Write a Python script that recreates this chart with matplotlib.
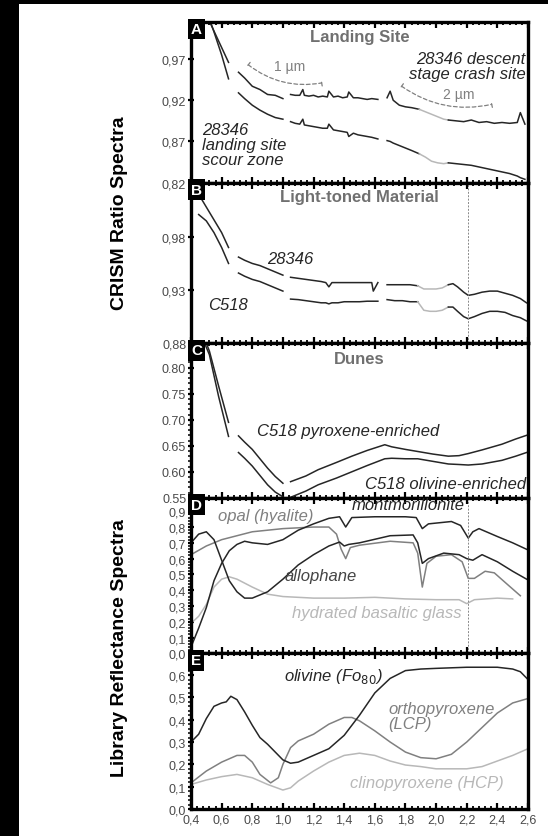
import matplotlib.pyplot as plt
from matplotlib.patches import Rectangle, FancyArrowPatch
from matplotlib.ticker import MultipleLocator, FixedLocator, FuncFormatter

plt.rcParams['font.family'] = ['Liberation Sans', 'DejaVu Sans']

DARK = '#262626'
MID = '#808080'
LIGHT = '#b8b8b8'
TITLE = '#707070'
TICKC = '#4a4a4a'

# ---------------- A: landing site (CRISM ratio) ----------------
a_wl1 = [0.45, 0.50, 0.55, 0.60, 0.645]
a_crash1 = [1.044, 1.024, 1.004, 0.984, 0.966]
a_scour1 = [1.060, 1.030, 1.003, 0.975, 0.946]
a_wl2 = [0.71, 0.75, 0.80, 0.85, 0.90, 0.95, 1.00]
a_crash2 = [0.954, 0.947, 0.937, 0.933, 0.927, 0.926, 0.922]
a_scour2 = [0.929, 0.922, 0.914, 0.908, 0.903, 0.899, 0.897]
a_wl3 = [1.05, 1.08, 1.11, 1.13, 1.14, 1.17, 1.20, 1.23, 1.26, 1.29, 1.30,
         1.33, 1.36, 1.39, 1.42, 1.43, 1.46, 1.49, 1.52, 1.55, 1.58, 1.62]
a_crash3 = [0.927, 0.926, 0.926, 0.933, 0.926, 0.925, 0.926, 0.924, 0.925,
            0.924, 0.931, 0.924, 0.925, 0.923, 0.924, 0.930, 0.923, 0.923,
            0.922, 0.921, 0.922, 0.921]
a_scour3 = [0.894, 0.892, 0.891, 0.897, 0.890, 0.889, 0.888, 0.887, 0.886,
            0.886, 0.891, 0.884, 0.883, 0.882, 0.881, 0.876, 0.880, 0.878,
            0.877, 0.876, 0.875, 0.873]
a_wl4 = [1.68, 1.70, 1.72, 1.76, 1.80, 1.84, 1.89]
a_crash4 = [0.923, 0.931, 0.920, 0.914, 0.912, 0.911, 0.909]
a_scour4 = [0.871, 0.870, 0.868, 0.865, 0.862, 0.859, 0.855]
a_wl5 = [1.89, 1.93, 1.97, 2.01, 2.05, 2.08]
a_crash5 = [0.909, 0.906, 0.903, 0.900, 0.897, 0.896]
a_scour5 = [0.855, 0.851, 0.846, 0.844, 0.843, 0.844]
a_wl6 = [2.08, 2.13, 2.18, 2.23, 2.28, 2.33, 2.38, 2.43, 2.48, 2.53, 2.55, 2.58]
a_crash6 = [0.896, 0.895, 0.894, 0.896, 0.893, 0.894, 0.892, 0.893, 0.892,
            0.893, 0.905, 0.891]
a_scour6 = [0.844, 0.843, 0.842, 0.841, 0.839, 0.837, 0.835, 0.833, 0.831,
            0.828, 0.826, 0.824]

# ---------------- B: light-toned material ----------------
b_wl1 = [0.45, 0.50, 0.55, 0.60, 0.645]
b_28346_1 = [1.020, 1.008, 0.996, 0.984, 0.970]
b_c518_1 = [1.001, 0.995, 0.984, 0.970, 0.955]
b_wl2 = [0.71, 0.75, 0.80, 0.85, 0.90, 0.95, 1.00]
b_28346_2 = [0.961, 0.958, 0.955, 0.953, 0.950, 0.947, 0.944]
b_c518_2 = [0.946, 0.943, 0.940, 0.938, 0.935, 0.932, 0.929]
b_wl3 = [1.05, 1.10, 1.15, 1.20, 1.25, 1.28, 1.30, 1.32, 1.36, 1.40, 1.45,
         1.50, 1.55, 1.58, 1.59, 1.62]
b_28346_3 = [0.942, 0.941, 0.940, 0.939, 0.938, 0.937, 0.933, 0.937, 0.937,
             0.937, 0.937, 0.937, 0.937, 0.937, 0.929, 0.937]
b_c518_3 = [0.9215, 0.921, 0.920, 0.919, 0.918, 0.918, 0.917, 0.918, 0.918,
            0.919, 0.919, 0.919, 0.9195, 0.9195, 0.9195, 0.9195]
b_wl4 = [1.68, 1.73, 1.78, 1.83, 1.88]
b_28346_4 = [0.935, 0.935, 0.935, 0.935, 0.934]
b_c518_4 = [0.921, 0.920, 0.920, 0.919, 0.919]
b_wl5 = [1.88, 1.92, 1.96, 2.00, 2.04, 2.08]
b_28346_5 = [0.934, 0.931, 0.931, 0.931, 0.932, 0.935]
b_c518_5 = [0.919, 0.911, 0.910, 0.910, 0.911, 0.914]
b_wl6 = [2.08, 2.11, 2.14, 2.18, 2.21, 2.25, 2.30, 2.35, 2.40, 2.45, 2.50,
         2.55, 2.59]
b_28346_6 = [0.935, 0.936, 0.933, 0.928, 0.925, 0.926, 0.928, 0.929, 0.929,
             0.927, 0.925, 0.922, 0.918]
b_c518_6 = [0.914, 0.914, 0.910, 0.905, 0.903, 0.905, 0.908, 0.910, 0.910,
            0.909, 0.906, 0.904, 0.901]

# ---------------- C: dunes ----------------
c_wl1 = [0.47, 0.52, 0.58, 0.645]
c_pyx1 = [0.870, 0.832, 0.765, 0.695]
c_oli1 = [0.860, 0.825, 0.745, 0.668]
c_wl2 = [0.71, 0.75, 0.80, 0.85, 0.90, 0.95, 1.00]
c_pyx2 = [0.669, 0.657, 0.643, 0.625, 0.607, 0.591, 0.578]
c_oli2 = [0.637, 0.626, 0.611, 0.593, 0.575, 0.561, 0.552]
c_wl3 = [1.05, 1.15, 1.23, 1.35, 1.45, 1.55, 1.665, 1.71, 1.80, 1.88, 1.98,
         2.08, 2.15, 2.21, 2.30, 2.43, 2.52, 2.59]
c_pyx3 = [0.581, 0.592, 0.604, 0.618, 0.630, 0.641, 0.652, 0.648, 0.643,
          0.639, 0.634, 0.630, 0.631, 0.635, 0.642, 0.653, 0.663, 0.670]
c_oli3 = [0.551, 0.563, 0.575, 0.588, 0.600, 0.612, 0.625, 0.626, 0.625,
          0.625, 0.620, 0.615, 0.614, 0.613, 0.615, 0.622, 0.630, 0.637]

# ---------------- D: library, hydrated phases ----------------
d_wl = [0.40, 0.45, 0.50, 0.55, 0.60, 0.65, 0.70, 0.75, 0.80, 0.90, 1.00,
        1.10, 1.20, 1.30, 1.37, 1.41, 1.45, 1.60, 1.80, 1.87, 1.91, 1.95,
        2.10, 2.16, 2.21, 2.24, 2.28, 2.40, 2.50, 2.60]
d_mont = [0.04, 0.16, 0.29, 0.46, 0.57, 0.65, 0.69, 0.71, 0.70, 0.69, 0.72,
          0.78, 0.82, 0.855, 0.865, 0.80, 0.86, 0.865, 0.865, 0.86, 0.79,
          0.82, 0.835, 0.81, 0.73, 0.77, 0.79, 0.74, 0.70, 0.655]
d_allo_wl = [0.40, 0.45, 0.50, 0.55, 0.60, 0.65, 0.70, 0.75, 0.80, 0.90,
             1.00, 1.10, 1.20, 1.30, 1.37, 1.40, 1.43, 1.50, 1.70, 1.85,
             1.88, 1.91, 1.95, 2.05, 2.15, 2.20, 2.24, 2.30, 2.40, 2.50, 2.60]
d_allo = [0.70, 0.755, 0.77, 0.72, 0.59, 0.46, 0.39, 0.35, 0.35, 0.39, 0.47,
          0.56, 0.625, 0.68, 0.705, 0.68, 0.69, 0.70, 0.745, 0.75, 0.70, 0.57,
          0.60, 0.635, 0.625, 0.60, 0.59, 0.625, 0.58, 0.52, 0.465]
d_opal_wl = [0.40, 0.50, 0.60, 0.80, 1.00, 1.20, 1.30, 1.35, 1.38, 1.41,
             1.44, 1.50, 1.70, 1.85, 1.88, 1.91, 1.94, 2.00, 2.10, 2.17,
             2.21, 2.25, 2.32, 2.38, 2.45, 2.55]
d_opal = [0.625, 0.68, 0.72, 0.77, 0.79, 0.80, 0.80, 0.755, 0.66, 0.60, 0.67,
          0.685, 0.71, 0.70, 0.635, 0.42, 0.57, 0.615, 0.625, 0.58, 0.475,
          0.475, 0.52, 0.51, 0.45, 0.365]
d_glass_wl = [0.40, 0.45, 0.50, 0.55, 0.60, 0.65, 0.70, 0.80, 0.90, 1.00,
              1.20, 1.40, 1.60, 1.80, 2.00, 2.15, 2.20, 2.25, 2.40, 2.50]
d_glass = [0.19, 0.235, 0.31, 0.42, 0.47, 0.485, 0.47, 0.42, 0.375, 0.36,
           0.35, 0.35, 0.355, 0.345, 0.34, 0.34, 0.315, 0.34, 0.35, 0.345]

# ---------------- E: library, mafic minerals ----------------
e_oli_wl = [0.40, 0.45, 0.50, 0.55, 0.60, 0.63, 0.66, 0.70, 0.75, 0.80,
            0.85, 0.90, 0.95, 1.00, 1.05, 1.10, 1.20, 1.30, 1.40, 1.50,
            1.60, 1.70, 1.80, 1.90, 2.00, 2.20, 2.40, 2.50, 2.55, 2.60]
e_oli = [0.30, 0.335, 0.405, 0.46, 0.475, 0.48, 0.505, 0.49, 0.435, 0.375,
         0.32, 0.29, 0.255, 0.22, 0.205, 0.21, 0.24, 0.27, 0.33, 0.42, 0.52,
         0.585, 0.62, 0.627, 0.63, 0.635, 0.635, 0.627, 0.615, 0.58]
e_opx_wl = [0.40, 0.50, 0.60, 0.70, 0.75, 0.80, 0.85, 0.92, 0.97, 1.00, 1.05,
            1.10, 1.20, 1.30, 1.40, 1.45, 1.50, 1.60, 1.70, 1.80, 1.90, 2.00,
            2.10, 2.20, 2.30, 2.40, 2.50, 2.60]
e_opx = [0.117, 0.17, 0.21, 0.24, 0.24, 0.21, 0.155, 0.117, 0.14, 0.20,
         0.275, 0.305, 0.335, 0.38, 0.41, 0.41, 0.395, 0.35, 0.30, 0.255,
         0.23, 0.225, 0.245, 0.30, 0.365, 0.43, 0.475, 0.495]
e_cpx_wl = [0.40, 0.50, 0.60, 0.70, 0.80, 0.90, 1.00, 1.05, 1.10, 1.20, 1.30,
            1.40, 1.50, 1.60, 1.70, 1.80, 1.90, 2.00, 2.20, 2.30, 2.40, 2.50,
            2.60]
e_cpx = [0.11, 0.13, 0.145, 0.155, 0.14, 0.11, 0.085, 0.095, 0.125, 0.17,
         0.21, 0.24, 0.25, 0.24, 0.215, 0.197, 0.19, 0.18, 0.18, 0.19, 0.215,
         0.24, 0.27]

x_ticks = [0.4, 0.6, 0.8, 1.0, 1.2, 1.4, 1.6, 1.8, 2.0, 2.2, 2.4, 2.6]
band_line = 2.21


def comma(fmt):
    return FuncFormatter(lambda v, p: (fmt % v).replace('.', ','))


def style_axis(ax, letter, ylim, yticks, yfmt, yminor=None):
    ax.set_xlim(0.4, 2.6)
    ax.set_ylim(ylim)
    for s in ax.spines.values():
        s.set_linewidth(2.4)
    ax.xaxis.set_major_locator(FixedLocator(x_ticks))
    ax.xaxis.set_minor_locator(MultipleLocator(0.04))
    ax.tick_params(axis='x', which='major', direction='in', top=True,
                   bottom=True, length=4, width=1.6, labelsize=9,
                   labelcolor=TICKC, pad=3)
    ax.tick_params(axis='x', which='minor', direction='in', top=True,
                   bottom=True, length=2.5, width=1.3)
    ax.yaxis.set_major_locator(FixedLocator(yticks))
    ax.yaxis.set_major_formatter(yfmt)
    ax.tick_params(axis='y', which='major', direction='inout', length=5,
                   width=1.6, labelsize=9, labelcolor=TICKC, pad=1)
    if yminor is not None:
        ax.yaxis.set_minor_locator(MultipleLocator(yminor))
        ax.tick_params(axis='y', which='minor', direction='out', length=2,
                       width=1.1)
    ax.tick_params(axis='x', labelbottom=False)
    ax.text(0.0, 1.0, letter, transform=ax.transAxes, ha='left', va='top',
            fontsize=11, fontweight='bold', color='white', zorder=10,
            bbox=dict(boxstyle='square,pad=0.22', fc='black', ec='black',
                      lw=0))


fig = plt.figure(figsize=(5.48, 8.37), dpi=100)
fig.patch.set_facecolor('white')
fig.patches.append(Rectangle((0, 0), 19 / 548, 1, transform=fig.transFigure,
                             fc='black', ec='none', zorder=-1))
fig.patches.append(Rectangle((0, 1 - 5 / 837), 1, 5 / 837,
                             transform=fig.transFigure, fc='black',
                             ec='none', zorder=-1))

gs = fig.add_gridspec(5, 1, left=191 / 548, right=528 / 548,
                      top=1 - 23 / 837, bottom=1 - 810 / 837, hspace=0,
                      height_ratios=[160, 160, 154, 155, 155])
axA, axB, axC, axD, axE = [fig.add_subplot(gs[i]) for i in range(5)]

lw = 1.1
lab_fs = 12

# A
style_axis(axA, 'A', (0.82, 1.015), [0.82, 0.87, 0.92, 0.97], comma('%.2f'))
for wl, cr, sc, col in [(a_wl1, a_crash1, a_scour1, DARK),
                        (a_wl2, a_crash2, a_scour2, DARK),
                        (a_wl3, a_crash3, a_scour3, DARK),
                        (a_wl4, a_crash4, a_scour4, DARK),
                        (a_wl5, a_crash5, a_scour5, LIGHT),
                        (a_wl6, a_crash6, a_scour6, DARK)]:
    axA.plot(wl, cr, color=col, lw=lw)
    axA.plot(wl, sc, color=col, lw=lw)
axA.text(1.5, 0.997, 'Landing Site', ha='center', va='center', fontsize=12,
         fontweight='bold', color=TITLE)
axA.text(2.585, 0.962, '28346 descent\nstage crash site', ha='right',
         va='center', fontsize=lab_fs, style='italic', color=DARK,
         linespacing=1.0)
axA.text(0.47, 0.866, '28346\nlanding site\nscour zone', ha='left',
         va='center', fontsize=lab_fs, style='italic', color=DARK,
         linespacing=1.0)
for p0, p1, lab, lp in [((0.774, 0.963), (1.253, 0.941), '1 µm', (1.046, 0.961)),
                        ((1.775, 0.937), (2.363, 0.915), '2 µm', (2.145, 0.928))]:
    axA.add_patch(FancyArrowPatch(p0, p1, arrowstyle='|-|,widthA=0.22,widthB=0.22',
                                  connectionstyle='arc3,rad=0.22',
                                  linestyle=(0, (3, 2)), color=MID, lw=0.9,
                                  mutation_scale=10, shrinkA=0, shrinkB=0))
    axA.text(lp[0], lp[1], lab, ha='center', va='center', fontsize=10,
             color=MID)

# B
style_axis(axB, 'B', (0.88, 1.031), [0.88, 0.93, 0.98], comma('%.2f'))
for wl, s1, s2, col in [(b_wl1, b_28346_1, b_c518_1, DARK),
                        (b_wl2, b_28346_2, b_c518_2, DARK),
                        (b_wl3, b_28346_3, b_c518_3, DARK),
                        (b_wl4, b_28346_4, b_c518_4, DARK),
                        (b_wl5, b_28346_5, b_c518_5, LIGHT),
                        (b_wl6, b_28346_6, b_c518_6, DARK)]:
    axB.plot(wl, s1, color=col, lw=lw)
    axB.plot(wl, s2, color=col, lw=lw)
axB.axvline(band_line, color='#888888', lw=0.7, ls=(0, (2, 1.5)))
axB.text(1.5, 1.018, 'Light-toned Material', ha='center', va='center',
         fontsize=12, fontweight='bold', color=TITLE)
axB.text(1.05, 0.960, '28346', ha='center', va='center', fontsize=lab_fs,
         style='italic', color=DARK)
axB.text(0.64, 0.916, 'C518', ha='center', va='center', fontsize=lab_fs,
         style='italic', color=DARK)

# C
style_axis(axC, 'C', (0.55, 0.847), [0.55, 0.60, 0.65, 0.70, 0.75, 0.80],
           FuncFormatter(lambda v, p: '%.2f' % v), yminor=0.01)
for wl, py, ol in [(c_wl1, c_pyx1, c_oli1), (c_wl2, c_pyx2, c_oli2),
                   (c_wl3, c_pyx3, c_oli3)]:
    axC.plot(wl, py, color=DARK, lw=lw)
    axC.plot(wl, ol, color=DARK, lw=lw)
axC.text(1.5, 0.817, 'Dunes', ha='center', va='center', fontsize=12,
         fontweight='bold', color=TITLE)
axC.text(0.83, 0.679, 'C518 pyroxene-enriched', ha='left', va='center',
         fontsize=lab_fs, style='italic', color=DARK)
axC.text(2.59, 0.578, 'C518 olivine-enriched', ha='right', va='center',
         fontsize=lab_fs, style='italic', color=DARK)

# D
style_axis(axD, 'D', (0.0, 0.985), [i / 10 for i in range(10)],
           comma('%.1f'), yminor=0.02)
axD.plot(d_glass_wl, d_glass, color=LIGHT, lw=lw)
axD.plot(d_opal_wl, d_opal, color=MID, lw=lw)
axD.plot(d_allo_wl, d_allo, color=DARK, lw=lw)
axD.plot(d_wl, d_mont, color=DARK, lw=lw)
axD.axvline(band_line, color='#888888', lw=0.7, ls=(0, (2, 1.5)))
axD.text(0.89, 0.875, 'opal (hyalite)', ha='center', va='center',
         fontsize=lab_fs, style='italic', color=MID)
axD.text(1.82, 0.945, 'montmorillonite', ha='center', va='center',
         fontsize=lab_fs, style='italic', color=DARK)
axD.text(1.25, 0.495, 'allophane', ha='center', va='center', fontsize=lab_fs,
         style='italic', color='#444444')
axD.text(1.61, 0.26, 'hydrated basaltic glass', ha='center', va='center',
         fontsize=lab_fs, style='italic', color=LIGHT)

# E
style_axis(axE, 'E', (0.0, 0.697), [i / 10 for i in range(7)],
           comma('%.1f'), yminor=0.02)
axE.plot(e_cpx_wl, e_cpx, color=LIGHT, lw=lw)
axE.plot(e_opx_wl, e_opx, color=MID, lw=lw)
axE.plot(e_oli_wl, e_oli, color=DARK, lw=lw)
axE.text(1.33, 0.60, 'olivine (Fo$_{80}$)', ha='center', va='center',
         fontsize=lab_fs, style='italic', color=DARK)
axE.text(1.69, 0.415, 'orthopyroxene\n(LCP)', ha='left', va='center',
         fontsize=lab_fs, style='italic', color=MID, linespacing=1.0)
axE.text(1.94, 0.117, 'clinopyroxene (HCP)', ha='center', va='center',
         fontsize=lab_fs, style='italic', color=LIGHT)
axE.tick_params(axis='x', labelbottom=True)
axE.xaxis.set_major_formatter(comma('%.1f'))

fig.text(120 / 548, 1 - 213 / 837, 'CRISM Ratio Spectra', rotation=90,
         ha='center', va='center', fontsize=14, fontweight='bold')
fig.text(120 / 548, 1 - 648 / 837, 'Library Reflectance Spectra',
         rotation=90, ha='center', va='center', fontsize=14,
         fontweight='bold')

fig.savefig('out.png', dpi=100, facecolor='white')
